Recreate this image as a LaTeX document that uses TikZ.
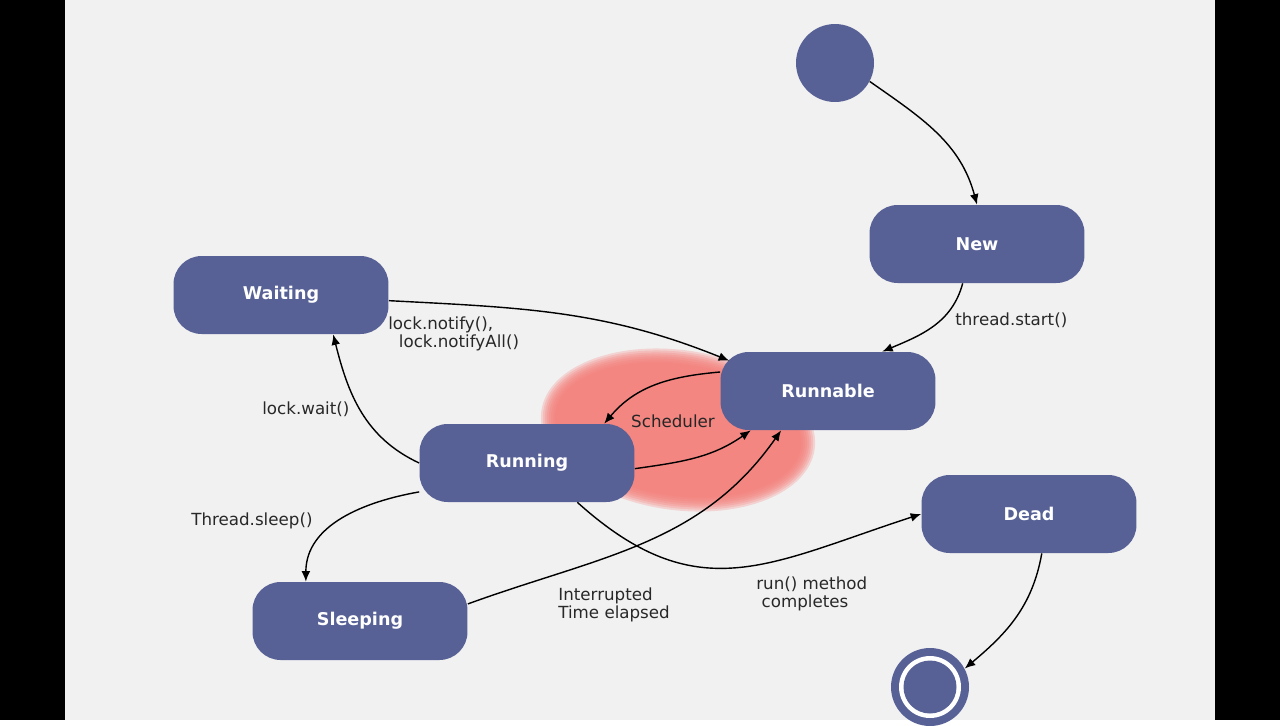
\documentclass[tikz,border=0pt]{standalone}
\usepackage{fontspec}
\setmainfont{DejaVu Sans}
\usepackage{xcolor}
\usetikzlibrary{arrows.meta, positioning, calc}

\definecolor{statefill}{RGB}{87,97,150}
\definecolor{schedred}{RGB}{246,124,119}
\definecolor{paper}{RGB}{241,241,241}
\definecolor{labelgray}{RGB}{40,40,40}

\begin{document}
\begin{tikzpicture}[
                x = 0.02cm, y = 0.02cm,
                statebox/.style = {
                    rectangle,
                    rounded corners = 16pt,
                    fill            = statefill,
                    text            = white,
                    minimum width   = 4.3cm,
                    minimum height  = 1.56cm,
                    align           = center,
                    font            = \fontsize{10}{12}\selectfont\bfseries
                },
                dot/.style = {
                    circle,
                    fill          = statefill,
                    minimum size  = 1.56cm,
                    inner sep     = 0pt
                },
                tlabel/.style = {
                    inner sep = 0pt,
                    align     = left,
                    text      = labelgray,
                    font      = \fontsize{9.5}{10.4}\selectfont
                },
                bigarrow/.style = {-{Latex[length=6pt, width=5pt]}, line width=0.8pt}
            ]

                % frame
                \fill[black] (0, 0) rectangle (1280, -720);
                \fill[paper] (65, 0) rectangle (1215, -720);

                % scheduler blob
                \foreach \k in {0,...,7}
                    \fill[schedred, opacity=0.25, rotate around={-8:(678, -430)}]
                        (678, -430) ellipse [x radius={(138-2*\k)*0.02cm}, y radius={(80-2*\k)*0.02cm}];

                % states
                \node[dot] (start) at (835, -63) {};
                \node[statebox] (new) at (977, -244) {New};
                \node[statebox] (runnable) at (828, -391) {Runnable};
                \node[statebox] (waiting) at (281, -295) {Waiting};
                \node[statebox] (running) at (527, -463) {Running};
                \node[statebox] (sleeping) at (360, -621) {Sleeping};
                \node[statebox] (dead) at (1029, -514) {Dead};
                \node[dot] (final) at (930, -687) {};
                \fill[white] (final) circle [radius=0.62cm];
                \fill[statefill] (final) circle [radius=0.53cm];

                % transitions
                \draw[bigarrow] (start.-28) to[out=-35, in=105] (new.north);
                \draw[bigarrow] (new.250) to[out=-105, in=23] (runnable.36);
                \draw[bigarrow] (waiting.-3) to[out=-3, in=158] ($(runnable.north west)+(9, -9)$);
                \draw[bigarrow] (running.west) to[out=155, in=-76] (waiting.-37);
                \draw[bigarrow] (runnable.170) to[out=185, in=50] (running.27);
                \draw[bigarrow] (running.-3) to[out=8, in=-145] (runnable.-153);
                \draw[bigarrow] (sleeping.9) to[out=20, in=-125] (runnable.-140);
                \draw[bigarrow] (running.195) to[out=190, in=90] (sleeping.144);
                \draw[bigarrow] (running.-38) to[out=-42, in=198, looseness=1.2] (dead.west);
                \draw[bigarrow] (dead.-72) to[out=-100, in=40] (final.28);

                % labels
                \node[tlabel, anchor=west] (lstart) at (955, -320) {thread.start()};
                \node[tlabel, anchor=north west] (lnotify) at (388, -316) {lock.notify(),\\\hspace{6pt}lock.notifyAll()};
                \node[tlabel, anchor=west] (lwait) at (262, -409) {lock.wait()};
                \node[tlabel, anchor=west] (lsleep) at (191, -521) {Thread.sleep()};
                \node[tlabel, anchor=north west] (lwake) at (558, -587) {Interrupted\\Time elapsed};
                \node[tlabel, anchor=north west] (ldone) at (756, -576) {run() method\\\hspace{3pt}completes};
                \node[tlabel, text=black!85] (lsched) at (673, -421) {Scheduler};
            \end{tikzpicture}
\end{document}
